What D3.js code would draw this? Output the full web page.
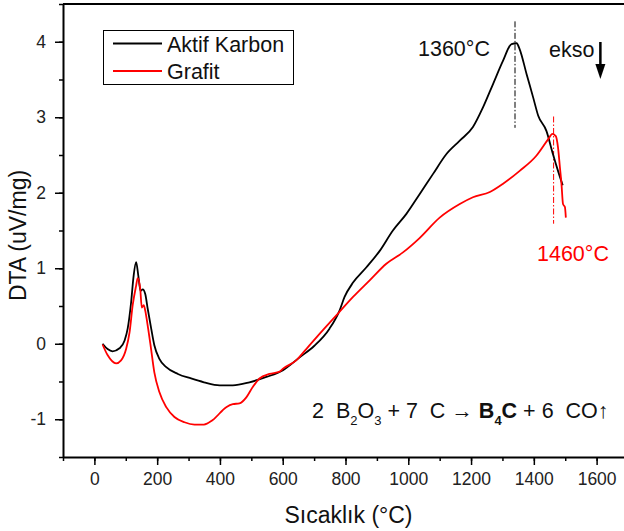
<!DOCTYPE html>
<html lang="tr">
<head>
    <meta charset="UTF-8">
    <title>DTA - Aktif Karbon / Grafit</title>
    <script src="https://d3js.org/d3.v7.min.js"></script>
    <style>
        body {
            margin: 0;
            background-color: #fff;
            font-family: "Liberation Sans", Arial, sans-serif;
        }
        .tick text {
            font-family: "Liberation Sans", Arial, sans-serif;
            font-size: 17.5px;
            fill: #222;
        }
        .axis-title {
            font-size: 23px;
            fill: #111;
        }
        .note {
            font-size: 21.5px;
        }
    </style>
</head>
<body>
    <div id="chart"></div>

    <script>
        // Temperature (°C) and DTA (uV/mg)
        const aktifT = [26, 42, 58, 80, 96, 106, 117, 125, 133, 140, 147, 154, 162, 170, 181, 191, 207, 229, 266,
            308, 349, 399, 441, 494, 548, 601, 654, 700, 749, 781, 797, 824, 866, 909, 951, 994, 1036, 1079,
            1121, 1164, 1206, 1238, 1270, 1302, 1329, 1345, 1355, 1377, 1398, 1414, 1440, 1461, 1477, 1492];
        const aktifV = [0, -0.07, -0.10, -0.06, 0.04, 0.20, 0.55, 0.90, 1.08, 0.90, 0.70, 0.72, 0.66, 0.46, 0.20, -0.02,
            -0.20, -0.31, -0.40, -0.46, -0.51, -0.55, -0.55, -0.51, -0.44, -0.35, -0.18, -0.03, 0.20, 0.44, 0.62,
            0.81, 1.01, 1.23, 1.50, 1.72, 1.98, 2.25, 2.51, 2.69, 2.87, 3.13, 3.44, 3.75, 3.97, 3.98, 3.90, 3.57,
            3.26, 3.02, 2.82, 2.51, 2.29, 2.10];

        const grafitT = [26, 42, 69, 85, 101, 112, 122, 133, 138, 146, 151, 157, 162, 168, 179, 191, 207, 229, 255,
            287, 319, 349, 377, 420, 441, 462, 484, 505, 526, 558, 590, 601, 643, 675, 728, 776, 824, 877, 930,
            983, 1036, 1100, 1164, 1206, 1260, 1302, 1355, 1408, 1446, 1459, 1470, 1477, 1483, 1488, 1493, 1499, 1502];
        const grafitV = [-0.01, -0.15, -0.26, -0.22, -0.07, 0.15, 0.51, 0.77, 0.87, 0.73, 0.48, 0.51, 0.44, 0.29, -0.02,
            -0.38, -0.64, -0.84, -0.97, -1.04, -1.07, -1.07, -1.01, -0.84, -0.80, -0.79, -0.71, -0.57, -0.46, -0.40,
            -0.37, -0.33, -0.22, -0.07, 0.18, 0.40, 0.62, 0.84, 1.06, 1.21, 1.40, 1.67, 1.85, 1.94, 2.01, 2.12,
            2.29, 2.49, 2.71, 2.78, 2.75, 2.60, 2.34, 2.12, 1.85, 1.81, 1.67];

        const seriesNames = ["Aktif Karbon", "Grafit"];
        const seriesColors = ["#000000", "#ff0000"];

        const xTicks = [0, 200, 400, 600, 800, 1000, 1200, 1400, 1600];
        const yTicks = [-1, 0, 1, 2, 3, 4];

        // peak markers (dash-dot lines) and their labels
        const peakT = [1340, 1463];
        const peakFrom = [4.27, 3.01];
        const peakTo = [2.86, 1.59];
        const peakLabels = ["1360°C", "1460°C"];

        const width = 624, height = 531;
        const plot = {left: 63, right: 628, top: 4, bottom: 457};

        const svg = d3.select("#chart")
            .append("svg")
            .attr("width", width)
            .attr("height", height);

        const x = d3.scaleLinear().domain([-100, 1700]).range([plot.left, plot.right]);
        const y = d3.scaleLinear().domain([-1.5, 4.5]).range([plot.bottom, plot.top]);

        // minor ticks
        svg.append("g")
            .attr("transform", `translate(0,${plot.bottom})`)
            .call(d3.axisBottom(x).tickValues(d3.range(-100, 1701, 100)).tickSize(4).tickFormat(""))
            .call(g => g.select(".domain").remove())
            .selectAll("line").attr("stroke-width", 1.5);
        svg.append("g")
            .attr("transform", `translate(${plot.left},0)`)
            .call(d3.axisLeft(y).tickValues(d3.range(-1.5, 4.51, 0.5)).tickSize(4).tickFormat(""))
            .call(g => g.select(".domain").remove())
            .selectAll("line").attr("stroke-width", 1.5);

        // major ticks + labels (plain hyphen for negatives, as in the original)
        const plain = d => String(d);
        const xAxis = svg.append("g")
            .attr("transform", `translate(0,${plot.bottom})`)
            .call(d3.axisBottom(x).tickValues(xTicks).tickFormat(plain)
                .tickSize(8).tickSizeOuter(0).tickPadding(8));
        const yAxis = svg.append("g")
            .attr("transform", `translate(${plot.left},0)`)
            .call(d3.axisLeft(y).tickValues(yTicks).tickFormat(plain)
                .tickSize(8).tickSizeOuter(0).tickPadding(9));
        [xAxis, yAxis].forEach(a => {
            a.select(".domain").attr("stroke-width", 2);
            a.selectAll(".tick line").attr("stroke-width", 1.5);
        });

        // top frame
        svg.append("line")
            .attr("x1", plot.left).attr("x2", plot.right)
            .attr("y1", plot.top).attr("y2", plot.top)
            .attr("stroke", "#000").attr("stroke-width", 2);

        // axis titles
        svg.append("text")
            .attr("class", "axis-title")
            .attr("x", (plot.left + plot.right) / 2 + 3)
            .attr("y", 523)
            .attr("text-anchor", "middle")
            .text("Sıcaklık (°C)");
        svg.append("text")
            .attr("class", "axis-title")
            .attr("transform", `translate(26,${(plot.top + plot.bottom) / 2 + 5}) rotate(-90)`)
            .attr("text-anchor", "middle")
            .text("DTA (uV/mg)");

        // curves
        const line = d3.line()
            .x(d => x(d[0]))
            .y(d => y(d[1]))
            .curve(d3.curveMonotoneX);

        const series = [
            d3.zip(aktifT, aktifV),
            d3.zip(grafitT, grafitV)
        ];

        // peak dash-dot lines
        svg.selectAll(".peak")
            .data(peakT)
            .enter()
            .append("line")
            .attr("class", "peak")
            .attr("x1", d => x(d)).attr("x2", d => x(d))
            .attr("y1", (d, i) => y(peakFrom[i]))
            .attr("y2", (d, i) => y(peakTo[i]))
            .attr("stroke", (d, i) => seriesColors[i])
            .attr("stroke-width", 1)
            .attr("stroke-dasharray", "6,2,1.5,2");

        svg.selectAll(".curve")
            .data(series)
            .enter()
            .append("path")
            .attr("class", "curve")
            .attr("d", line)
            .attr("fill", "none")
            .attr("stroke", (d, i) => seriesColors[i])
            .attr("stroke-width", 1.8)
            .attr("stroke-linejoin", "round");

        // peak labels
        svg.append("text")
            .attr("class", "note")
            .attr("x", 418)
            .attr("y", 56)
            .attr("fill", "#111")
            .text(peakLabels[0]);
        svg.append("text")
            .attr("class", "note")
            .attr("x", 537)
            .attr("y", 261)
            .attr("fill", "#ff0000")
            .text(peakLabels[1]);

        // ekso arrow
        svg.append("text")
            .attr("class", "note")
            .attr("x", 549)
            .attr("y", 57)
            .attr("fill", "#111")
            .text("ekso");
        const ax = x(1612);
        svg.append("line")
            .attr("x1", ax).attr("x2", ax)
            .attr("y1", 42).attr("y2", 68)
            .attr("stroke", "#000").attr("stroke-width", 2.5);
        svg.append("path")
            .attr("d", `M${ax - 5},64 L${ax + 5},64 L${ax},79 Z`)
            .attr("fill", "#000");

        // reaction equation
        const eq = svg.append("text")
            .attr("class", "note")
            .attr("x", 312)
            .attr("y", 418)
            .attr("fill", "#111");
        const parts = [
            ["2  B", 0, false], ["2", 1, false], ["O", 0, false], ["3", 1, false],
            [" + 7  C \u2192 ", 0, false], ["B", 0, true], ["4", 1, true], ["C", 0, true],
            [" + 6  CO\u2191", 0, false]
        ];
        let sub = 0;
        parts.forEach(p => {
            const shift = (p[1] ? 7 : 0) - sub;
            sub = p[1] ? 7 : 0;
            eq.append("tspan")
                .attr("dy", shift)
                .attr("font-size", p[1] ? 13 : null)
                .attr("font-weight", p[2] ? "bold" : null)
                .style("white-space", "pre")
                .text(p[0]);
        });

        // legend
        const legend = svg.append("g");
        legend.append("rect")
            .attr("x", 103.5).attr("y", 30.5)
            .attr("width", 190).attr("height", 54)
            .attr("fill", "#fff")
            .attr("stroke", "#000")
            .attr("stroke-width", 1);
        seriesNames.forEach((name, i) => {
            const ly = 43.5 + i * 27.5;
            legend.append("line")
                .attr("x1", 113).attr("x2", 162)
                .attr("y1", ly).attr("y2", ly)
                .attr("stroke", seriesColors[i])
                .attr("stroke-width", 1.8);
            legend.append("text")
                .attr("x", 167)
                .attr("y", ly + 8)
                .attr("font-size", 21.5)
                .attr("fill", "#111")
                .text(name);
        });
    </script>
</body>
</html>
